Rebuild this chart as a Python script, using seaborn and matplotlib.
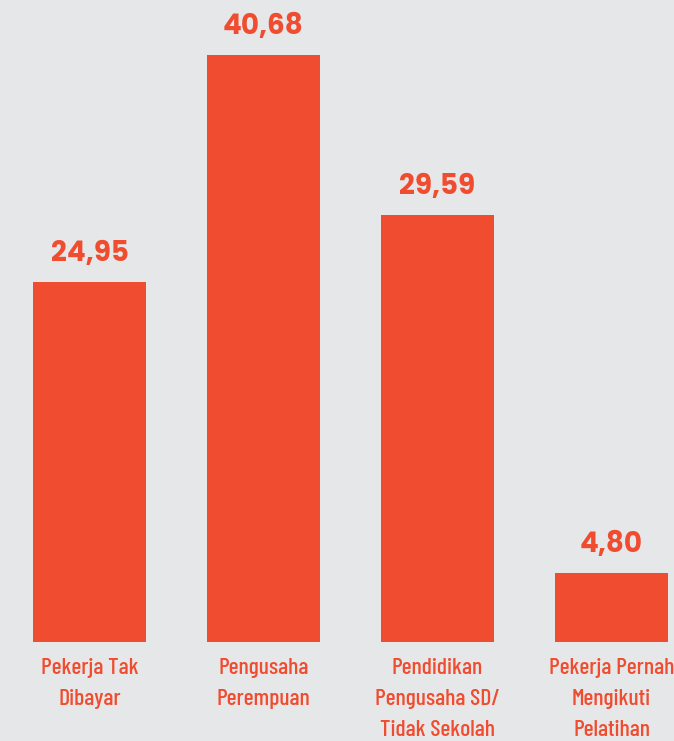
import matplotlib
matplotlib.use("Agg")
from matplotlib import pyplot as plt
import seaborn as sns
import pandas as pd

categories = ["Pekerja Tak\nDibayar", "Pengusaha\nPerempuan",
              "Pendidikan\nPengusaha SD/\nTidak Sekolah", "Pekerja Pernah\nMengikuti\nPelatihan"]
values = [24.95, 40.68, 29.59, 4.80]
value_labels = ["24,95", "40,68", "29,59", "4,80"]

bar_color = "#f04c30"
bg_color = "#e6e7e8"

df = pd.DataFrame({"cat": categories, "val": values})

sns.set_style("white")
fig = plt.figure(figsize=(6.74, 7.41), dpi=100)
fig.patch.set_facecolor(bg_color)
ax = fig.add_axes([0, 0, 1, 1])
ax.set_facecolor(bg_color)

sns.barplot(data=df, x="cat", y="val", color=bar_color, saturation=1,
            width=0.65, linewidth=0, ax=ax)

ax.set_xlim(-0.514, 3.359)
ax.set_ylim(-6.86, 44.49)
ax.axis("off")

# value labels above bars
for i, (v, lab) in enumerate(zip(values, value_labels)):
    ax.text(i, v + 1.45, lab, ha="center", va="baseline", color=bar_color,
            fontsize=20, fontweight="bold", family=["Poppins", "DejaVu Sans"])

# category labels under bars
for i, cat in enumerate(categories):
    ax.text(i, -1.1, cat, ha="center", va="top", color=bar_color,
            fontsize=17, fontweight=500, family=["Barlow Condensed", "DejaVu Sans"],
            linespacing=1.68)

fig.savefig("out.png", dpi=100, facecolor=bg_color)
